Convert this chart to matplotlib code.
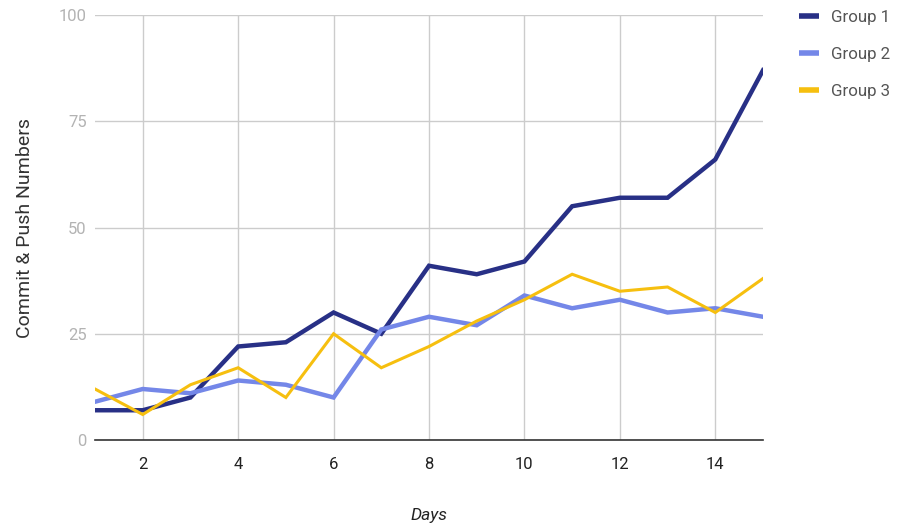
import matplotlib
matplotlib.use("Agg")
import matplotlib.pyplot as plt
from matplotlib.lines import Line2D

days = list(range(1, 16))
group1 = [7, 7, 10, 22, 23, 30, 25, 41, 39, 42, 55, 57, 57, 66, 87]
group2 = [9, 12, 11, 14, 13, 10, 26, 29, 27, 34, 31, 33, 30, 31, 29]
group3 = [12, 6, 13, 17, 10, 25, 17, 22, 28, 33, 39, 35, 36, 30, 38]
series_names = ["Group 1", "Group 2", "Group 3"]
colors = ["#283086", "#7487e8", "#f6bf0f"]
widths = [3.2, 3.2, 2.2]
x_ticks = [2, 4, 6, 8, 10, 12, 14]
y_ticks = [0, 25, 50, 75, 100]

plt.rcParams['font.family'] = ['Roboto', 'DejaVu Sans']

fig = plt.figure(figsize=(9.01, 5.31), dpi=100)
W, H = 901, 531
ax = fig.add_axes([95 / W, 1 - 440 / H, (763 - 95) / W, (440 - 15) / H])

for vals, c, lw, name in zip([group1, group2, group3], colors, widths, series_names):
    ax.plot(days, vals, color=c, lw=lw, label=name, solid_joinstyle='miter', zorder=3)

ax.set_xlim(1, 15)
ax.set_ylim(0, 100)
ax.set_xticks(x_ticks)
ax.set_yticks(y_ticks)
ax.grid(True, color="#cccccc", lw=1.0, zorder=0)
for s in ["top", "right", "left"]:
    ax.spines[s].set_visible(False)
ax.spines["bottom"].set_color("#333333")
ax.spines["bottom"].set_linewidth(1.2)
ax.tick_params(axis="both", length=0)
ax.tick_params(axis="y", colors="#b3b3b3", labelsize=12, pad=6)
ax.tick_params(axis="x", colors="#222222", labelsize=12, pad=12)
ax.set_xlabel("Days", fontsize=12.5, style="italic", color="#222222", labelpad=26)
ax.set_ylabel("Commit & Push Numbers", fontsize=14, color="#333333", labelpad=18)

handles = [Line2D([0], [0], color=c, lw=4.0, solid_capstyle='butt') for c in colors]
leg = fig.legend(handles, series_names, loc="upper left", bbox_to_anchor=(784 / W, 1 + 5 / H),
                 frameon=False, fontsize=12.2, handlelength=1.15, handletextpad=0.7,
                 labelspacing=1.28)
for t in leg.get_texts():
    t.set_color("#555555")

fig.savefig("out.png", dpi=100)
